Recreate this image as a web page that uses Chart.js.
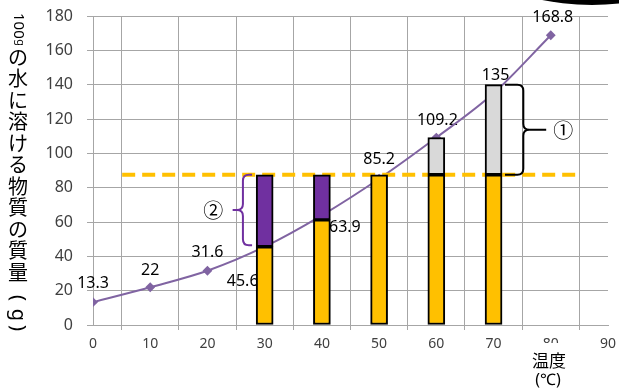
<!DOCTYPE html>
<html>
<head>
<meta charset="utf-8">
<script src="https://cdn.jsdelivr.net/npm/chart.js@4/dist/chart.umd.min.js"></script>
<style>
  html, body { margin: 0; padding: 0; background: #fff; }
  #wrap { width: 619px; height: 389px; position: relative; }
</style>
</head>
<body>
<div id="wrap"><canvas id="myChart" width="619" height="389"></canvas></div>
<script>
// solubility curve (temperature vs grams per 100 g water)
const temps = [0, 10, 20, 30, 40, 50, 60, 70, 80];
const solubility = [13.3, 22, 31.6, 45.6, 63.9, 85.2, 109.2, 135, 168.8];

// bars
const limitLevel = 87.5;              // dashed line / amount dissolved
const dashedFrom = 5.1;
const dashedTo = 84.8;
const barTemps = [30, 40, 50, 60, 70];
const yellowTops = [45.6, 61.2, 87.5, 87.5, 87.5];
const purpleTemps = [30, 40];
const purpleBottoms = [45.6, 61.2];
const grayTemps = [60, 70];
const grayTops = [109.2, 140];

// where each value label sits relative to its point (px)
const labelOffsets = [[0, -19], [0, -17], [0, -18], [-22, 35], [23, 12], [0, -19], [1, -17], [2, -18], [2, -18]];

const FONT = '"Noto Sans", "Noto Sans CJK JP", sans-serif';
const JP = '"Noto Sans CJK JP", sans-serif';

const linePoints = temps.map((t, i) => ({ x: t, y: solubility[i] }));

const barStyle = {
    type: 'bar',
    borderColor: '#000',
    borderWidth: 2,
    borderSkipped: false,
    barThickness: 17,
    grouped: false,
    order: 1
};

// value labels, drawn under the bars like the original
const valueLabels = {
    id: 'valueLabels',
    beforeDatasetsDraw(chart) {
        const ctx = chart.ctx;
        const meta = chart.getDatasetMeta(0);
        ctx.save();
        ctx.font = '16px ' + FONT;
        ctx.fillStyle = '#000';
        ctx.textAlign = 'center';
        ctx.textBaseline = 'middle';
        meta.data.forEach((pt, i) => {
            ctx.fillText(String(solubility[i]), pt.x + labelOffsets[i][0], pt.y + labelOffsets[i][1]);
        });
        ctx.restore();
    }
};

function drawBrace(ctx, xEnd, xMid, xTip, yTop, yBot, color) {
    const r = 6;
    const d1 = Math.sign(xMid - xEnd);
    const dt = Math.sign(xTip - xMid);
    const yC = (yTop + yBot) / 2;
    ctx.save();
    ctx.strokeStyle = color;
    ctx.lineWidth = 2;
    ctx.beginPath();
    ctx.moveTo(xEnd, yTop);
    ctx.lineTo(xMid - d1 * r, yTop);
    ctx.quadraticCurveTo(xMid, yTop, xMid, yTop + r);
    ctx.lineTo(xMid, yC - r);
    ctx.quadraticCurveTo(xMid, yC, xMid + dt * r, yC);
    ctx.lineTo(xTip, yC);
    ctx.moveTo(xMid + dt * r, yC);
    ctx.quadraticCurveTo(xMid, yC, xMid, yC + r);
    ctx.lineTo(xMid, yBot - r);
    ctx.quadraticCurveTo(xMid, yBot, xMid - d1 * r, yBot);
    ctx.lineTo(xEnd, yBot);
    ctx.stroke();
    ctx.restore();
}

const extras = {
    id: 'extras',
    afterDraw(chart) {
        const ctx = chart.ctx;
        const xs = chart.scales.x, ys = chart.scales.y;
        const px = v => xs.getPixelForValue(v);
        const py = v => ys.getPixelForValue(v);

        // braces and circled numbers
        drawBrace(ctx, px(72.0), px(75.2), px(79.2), py(140), py(limitLevel), '#000');
        drawBrace(ctx, px(27.8), px(26.2), px(24.4), py(limitLevel), py(46.5), '#7030A0');
        ctx.save();
        ctx.fillStyle = '#000';
        ctx.textAlign = 'center';
        ctx.textBaseline = 'middle';
        ctx.font = '20px ' + JP;
        ctx.fillText('①', px(82.2), py(113.6));
        ctx.fillText('②', px(21.0), py(67));
        ctx.restore();

        // x axis title
        ctx.save();
        ctx.fillStyle = '#fff';
        ctx.fillRect(528, 343, 44, 46);
        ctx.fillStyle = '#000';
        ctx.textAlign = 'center';
        ctx.textBaseline = 'middle';
        ctx.font = '17px ' + JP;
        ctx.fillText('温度', 549, 361);
        ctx.font = '16px ' + FONT;
        ctx.fillText('(℃)', 548, 380);
        ctx.restore();

        // y axis title, vertical
        ctx.save();
        ctx.fillStyle = '#000';
        const cx = 18;
        ctx.save();
        ctx.translate(cx, 13);
        ctx.rotate(Math.PI / 2);
        ctx.font = '15px ' + FONT;
        ctx.textAlign = 'left';
        ctx.textBaseline = 'middle';
        ctx.fillText('100', 0, 0);
        const w = ctx.measureText('100').width;
        ctx.font = '11px ' + FONT;
        ctx.fillText('g', w + 0.5, -2);
        ctx.restore();
        ctx.font = '20px ' + JP;
        ctx.textAlign = 'center';
        ctx.textBaseline = 'middle';
        const chars = Array.from('の水に溶ける物質の質量');
        chars.forEach((c, i) => ctx.fillText(c, cx, 57 + i * 21.5));
        [['(', 298], ['g', 315], [')', 328]].forEach(([c, y]) => {
            ctx.save();
            ctx.translate(cx, y);
            ctx.rotate(Math.PI / 2);
            ctx.font = '20px ' + FONT;
            ctx.fillText(c, 0, 0);
            ctx.restore();
        });
        ctx.restore();

        // black shape cut by the top edge
        ctx.save();
        ctx.fillStyle = '#000';
        ctx.beginPath();
        ctx.ellipse(592, -83, 150, 88, 0, 0, Math.PI * 2);
        ctx.fill();
        ctx.restore();
    }
};

const ctx = document.getElementById('myChart');
const myChart = new Chart(ctx, {
    type: 'bar',
    data: {
        datasets: [
            {
                type: 'line',
                data: linePoints,
                borderColor: '#8064A2',
                backgroundColor: '#8064A2',
                borderWidth: 2,
                pointStyle: 'rectRot',
                pointRadius: 3.5,
                cubicInterpolationMode: 'monotone',
                order: 10
            },
            {
                type: 'line',
                data: [{ x: dashedFrom, y: limitLevel }, { x: dashedTo, y: limitLevel }],
                borderColor: '#FFC000',
                borderWidth: 4,
                borderDash: [13, 7],
                pointRadius: 0,
                order: 9
            },
            Object.assign({}, barStyle, {
                data: barTemps.map((t, i) => ({ x: t, y: [0, yellowTops[i]] })),
                backgroundColor: '#FFC000'
            }),
            Object.assign({}, barStyle, {
                data: purpleTemps.map((t, i) => ({ x: t, y: [purpleBottoms[i], limitLevel] })),
                backgroundColor: '#7030A0'
            }),
            Object.assign({}, barStyle, {
                data: grayTemps.map((t, i) => ({ x: t, y: [limitLevel, grayTops[i]] })),
                backgroundColor: '#D9D9D9'
            })
        ]
    },
    options: {
        responsive: false,
        animation: false,
        layout: { padding: { top: 16, right: 11, left: 0, bottom: 0 } },
        plugins: { legend: { display: false }, tooltip: { enabled: false } },
        scales: {
            x: {
                type: 'linear',
                min: 0,
                max: 90,
                offset: false,
                afterFit: s => { s.height = 64; s.paddingLeft = 0; s.paddingRight = 0; },
                ticks: { stepSize: 10, color: '#404040', font: { size: 14, family: FONT }, padding: 6, maxRotation: 0 },
                grid: { color: '#A6A6A6', tickLength: 5 },
                border: { color: '#A6A6A6' }
            },
            y: {
                min: 0,
                max: 180,
                afterFit: s => { s.width = 93; s.paddingTop = 0; s.paddingBottom = 0; },
                ticks: { stepSize: 20, color: '#404040', font: { size: 16, family: FONT }, padding: 14 },
                grid: { color: '#A6A6A6', tickLength: 6 },
                border: { color: '#A6A6A6' }
            }
        }
    },
    plugins: [valueLabels, extras]
});
</script>
</body>
</html>
